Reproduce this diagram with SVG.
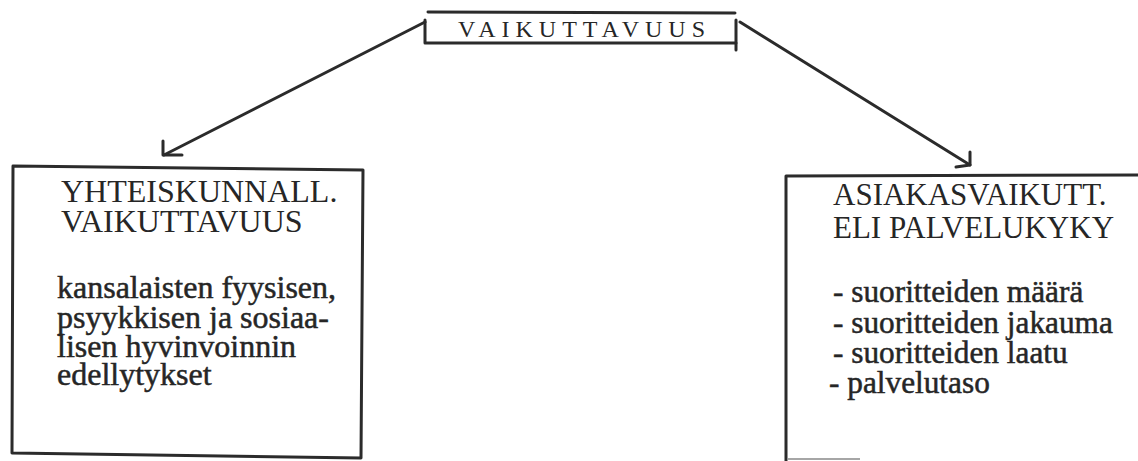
<svg xmlns="http://www.w3.org/2000/svg" width="1138" height="461" viewBox="0 0 1138 461">
<style>
.ln{stroke:#2b2b2b;stroke-width:3;fill:none;stroke-linecap:round;stroke-linejoin:round}
.b{stroke:#262626;stroke-width:0.5}
</style>
<rect width="1138" height="461" fill="#ffffff"/>
<g id="connectors">
<path class="ln" d="M425,22 L164,155"/>
<path class="ln" d="M163,141 L163,155 L182,155"/>
<path class="ln" d="M740,22 L970,165"/>
<path class="ln" d="M970,152 L970,165 L956,167"/>
</g>
<g id="top">
<path class="ln" d="M428,12 L735,13"/>
<path class="ln" d="M425,20 L425,43 L736,43"/>
<path class="ln" d="M736,20 L736,50"/>
<text font-family="Liberation Serif" fill="#262626" font-size="24" x="458" y="37" textLength="247" lengthAdjust="spacing">VAIKUTTAVUUS</text>
</g>
<g id="left">
<path class="ln" d="M13,166 L363,170 L361,458 L12,453 Z"/>
<text font-family="Liberation Serif" fill="#262626" font-size="32"><tspan x="61" y="202">YHTEISKUNNALL.</tspan><tspan x="61" y="232">VAIKUTTAVUUS</tspan></text>
<text class="b" font-family="Liberation Serif" fill="#262626" font-size="32"><tspan x="57" y="298">kansalaisten fyysisen,</tspan><tspan x="57" y="328">psyykkisen ja sosiaa-</tspan><tspan x="57" y="357">lisen hyvinvoinnin</tspan><tspan x="57" y="385">edellytykset</tspan></text>
</g>
<g id="right">
<path class="ln" d="M1138,175 L786,176 L786,461"/>
<path d="M788,459 L860,459" stroke="#888" stroke-width="1.5"/>
<text font-family="Liberation Serif" fill="#262626" font-size="31"><tspan x="833" y="205">ASIAKASVAIKUTT.</tspan><tspan x="833" y="238">ELI PALVELUKYKY</tspan></text>
<text class="b" font-family="Liberation Serif" fill="#262626" font-size="31.3"><tspan x="833" y="302">- suoritteiden määrä</tspan><tspan x="833" y="333">- suoritteiden jakauma</tspan><tspan x="833" y="363">- suoritteiden laatu</tspan><tspan x="829" y="393">- palvelutaso</tspan></text>
</g>
</svg>
